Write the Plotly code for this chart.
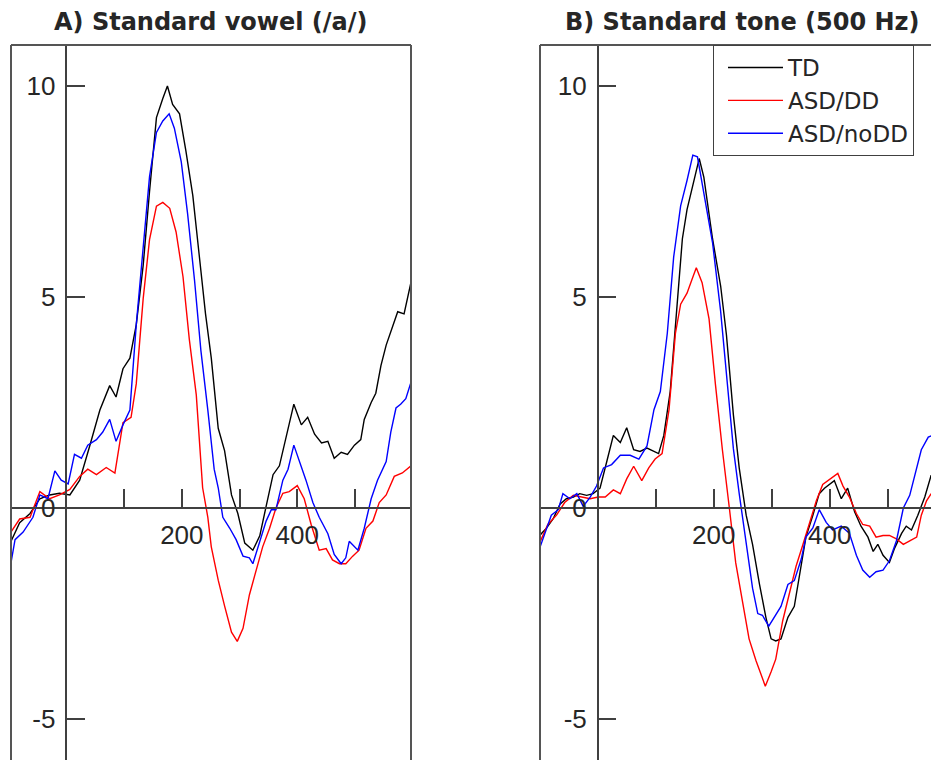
import plotly.graph_objects as go

# ---------------- data (ms, microvolts) ----------------
a_td_t = [-98, -81, -63, -46, -29, -12, 6, 23, 40, 58, 75, 86, 98, 110, 121, 133, 144, 156, 167, 175,
          184, 196, 207, 219, 230, 241, 251, 256, 263, 274, 286, 297, 309, 323, 335, 346, 358, 369, 381,
          394, 407, 418, 430, 442, 453, 464, 476, 487, 499, 510, 516, 528, 536, 545, 554, 562, 574, 585, 597]
a_td_v = [-0.85, -0.35, -0.13, 0.22, 0.31, 0.35, 0.31, 0.66, 1.45, 2.32, 2.9, 2.63, 3.3, 3.55, 4.34, 5.75,
          7.5, 9.25, 9.7, 10.0, 9.56, 9.34, 8.46, 7.4, 6.0, 4.6, 3.55, 2.85, 1.89, 1.36, 0.31, -0.13, -0.83,
          -1.0, -0.66, 0.04, 0.79, 1.0, 1.71, 2.46, 1.97, 2.15, 1.75, 1.54, 1.58, 1.18, 1.32, 1.27, 1.49,
          1.62, 2.1, 2.5, 2.72, 3.38, 3.86, 4.17, 4.65, 4.6, 5.35]

a_dd_t = [-98, -81, -63, -46, -29, -12, 6, 23, 37, 52, 69, 84, 98, 112, 121, 133, 144, 156, 167, 179,
          190, 202, 213, 225, 236, 245, 251, 263, 274, 286, 296, 306, 317, 329, 340, 352, 363, 375, 386,
          400, 412, 424, 438, 450, 461, 473, 484, 496, 507, 519, 531, 542, 554, 568, 582, 597]
a_dd_v = [-0.61, -0.26, -0.22, 0.39, 0.22, 0.31, 0.44, 0.75, 0.92, 0.79, 0.96, 0.83, 2.02, 2.15, 2.94,
          4.96, 6.36, 7.15, 7.24, 7.1, 6.54, 5.48, 3.99, 2.68, 0.48, -0.22, -0.92, -1.71, -2.32, -2.94,
          -3.16, -2.85, -2.06, -1.45, -0.92, -0.48, 0.0, 0.35, 0.39, 0.53, 0.22, -0.39, -1.0, -0.96,
          -1.23, -1.32, -1.32, -1.14, -1.0, -0.48, -0.31, 0.13, 0.31, 0.75, 0.83, 1.0]

a_nodd_t = [-98, -89, -75, -58, -46, -32, -20, -9, 3, 14, 26, 37, 52, 63, 75, 86, 98, 110, 121, 133,
            144, 156, 167, 178, 187, 199, 210, 222, 233, 245, 256, 263, 271, 283, 294, 306, 317, 323,
            332, 346, 355, 363, 375, 384, 394, 404, 415, 427, 438, 453, 464, 476, 484, 490, 496, 505,
            516, 528, 539, 554, 562, 571, 579, 588, 597]
a_nodd_v = [-1.45, -0.75, -0.57, -0.22, 0.31, 0.22, 0.88, 0.66, 0.57, 1.27, 1.18, 1.49, 1.62, 1.8, 2.1,
            1.58, 1.97, 2.32, 4.34, 6.27, 7.85, 8.9, 9.17, 9.34, 9.0, 8.2, 6.97, 5.39, 3.73, 2.32, 0.92,
            0.48, -0.22, -0.48, -0.75, -1.14, -1.18, -1.32, -0.92, -0.31, -0.04, -0.04, 0.66, 0.92, 1.49,
            1.1, 0.66, 0.13, -0.22, -0.61, -1.1, -1.32, -1.18, -0.79, -0.88, -1.0, -0.48, 0.22, 0.66,
            1.1, 1.8, 2.37, 2.46, 2.59, 2.98]

b_td_t = [-100, -88, -77, -65, -54, -42, -31, -19, -8, 4, 16, 27, 39, 50, 62, 73, 85, 97, 105, 114,
          125, 137, 146, 154, 166, 175, 183, 198, 212, 222, 234, 244, 256, 267, 279, 290, 299, 307, 316,
          328, 339, 348, 359, 371, 382, 391, 400, 408, 420, 431, 443, 454, 466, 475, 483, 492, 503, 512,
          524, 532, 541, 552, 564, 575]
b_td_v = [-0.65, -0.47, -0.26, 0.09, 0.22, 0.26, 0.34, 0.30, 0.34, 0.47, 1.12, 1.72, 1.55, 1.9, 1.38,
          1.34, 1.42, 1.34, 1.29, 1.72, 2.76, 4.83, 6.38, 7.07, 7.76, 8.28, 7.84, 6.38, 5.26, 4.1, 2.2,
          0.95, -0.17, -0.86, -1.81, -2.59, -3.1, -3.15, -3.1, -2.59, -2.33, -1.55, -0.69, -0.17, 0.34,
          0.47, 0.56, 0.65, 0.22, 0.47, -0.09, -0.43, -0.69, -1.03, -0.86, -1.12, -1.29, -0.95, -0.6,
          -0.43, -0.52, -0.17, 0.26, 0.78]

b_dd_t = [-100, -86, -71, -57, -42, -28, -13, 1, 13, 27, 39, 50, 62, 76, 88, 99, 111, 123, 134, 143,
          154, 163, 170, 180, 192, 203, 215, 227, 238, 250, 261, 273, 282, 289, 299, 307, 319, 331, 342,
          354, 365, 377, 388, 400, 414, 423, 434, 446, 457, 469, 480, 492, 503, 515, 527, 538, 550, 558,
          567, 575]
b_dd_v = [-0.82, -0.39, -0.17, 0.13, 0.3, 0.26, 0.22, 0.26, 0.26, 0.43, 0.34, 0.69, 0.99, 0.65, 0.95,
          1.16, 1.29, 2.33, 4.14, 4.83, 5.09, 5.43, 5.69, 5.34, 4.48, 2.93, 1.38, 0.0, -1.3, -2.24, -3.1,
          -3.62, -3.97, -4.22, -3.88, -3.58, -2.67, -1.98, -1.38, -0.86, -0.34, 0.17, 0.56, 0.69, 0.82,
          0.52, 0.26, -0.13, -0.39, -0.43, -0.69, -0.65, -0.65, -0.73, -0.86, -0.78, -0.69, -0.17, 0.17,
          0.34]

b_nodd_t = [-100, -91, -80, -68, -60, -48, -36, -25, -13, -2, 10, 24, 39, 56, 71, 85, 97, 108, 120, 131,
            143, 154, 164, 172, 183, 198, 212, 222, 234, 244, 256, 267, 276, 284, 295, 305, 316, 328,
            339, 351, 359, 371, 382, 394, 405, 420, 434, 446, 457, 469, 480, 492, 503, 515, 527, 538,
            547, 558, 570, 577]
b_nodd_v = [-0.95, -0.6, -0.17, -0.04, 0.34, 0.22, 0.34, 0.04, 0.26, 0.52, 0.95, 1.03, 1.25, 1.25, 1.16,
            1.47, 2.33, 2.76, 4.14, 5.95, 7.16, 7.76, 8.36, 8.32, 7.5, 6.29, 4.66, 3.2, 1.4, 0.34, -0.78,
            -1.9, -2.5, -2.54, -2.8, -2.59, -2.33, -1.81, -1.72, -1.21, -0.69, -0.47, -0.04, -0.34, -0.52,
            -0.43, -0.6, -1.12, -1.47, -1.64, -1.51, -1.47, -1.25, -0.78, 0.0, 0.3, 0.78, 1.38, 1.68, 1.72]

group_names = ["TD", "ASD/DD", "ASD/noDD"]
group_colors = ["#000000", "#ff0000", "#0000ff"]
panel_titles = ["A) Standard vowel (/a/)", "B) Standard tone (500 Hz)"]

x_tickvals = [100, 200, 300, 400, 500]
x_ticktext = ["", "200", "", "400", ""]
y_tickvals = [-5, 0, 5, 10]
y_ticktext = ["-5", "0", "5", "10"]

# ---------------- layout geometry ----------------
W, H = 931, 760
TOP = 45
yrange = [-5.97, 10.97]
xrange_a = [-96, 597]
xrange_b = [-99.5, 574.7]
dom_a = [11 / W, 411 / W]
dom_b = [540 / W, 1.0]

FONT = "Liberation Sans, Arial, Helvetica, sans-serif"
WIDE = "DejaVu Sans, Verdana, sans-serif"
AX = "#404040"
TXT = "#262626"

fig = go.Figure()

panels = [
    ("x", "y", [(a_td_t, a_td_v), (a_dd_t, a_dd_v), (a_nodd_t, a_nodd_v)]),
    ("x2", "y2", [(b_td_t, b_td_v), (b_dd_t, b_dd_v), (b_nodd_t, b_nodd_v)]),
]
for pi, (xa, ya, series) in enumerate(panels):
    for gi, (t, v) in enumerate(series):
        fig.add_trace(go.Scatter(
            x=t, y=v, mode="lines", xaxis=xa, yaxis=ya,
            name=group_names[gi], legendgroup=group_names[gi],
            showlegend=(pi == 1),
            line=dict(color=group_colors[gi], width=1.4),
            hoverinfo="skip",
        ))

y_pos = (0 - yrange[0]) / (yrange[1] - yrange[0])


def yaxis_pos(dom, xr):
    return dom[0] + (0 - xr[0]) / (xr[1] - xr[0]) * (dom[1] - dom[0])


common_x = dict(
    showgrid=False, zeroline=False, showline=True, linecolor=AX, linewidth=1.5,
    ticks="inside", ticklen=18, tickwidth=1.5, tickcolor=AX,
    tickvals=x_tickvals, ticktext=x_ticktext,
    tickfont=dict(family=FONT, size=26, color=TXT),
    anchor="free", position=y_pos, ticklabelstandoff=4,
)
common_y = dict(
    range=yrange, domain=[0, 1],
    showgrid=False, zeroline=False, showline=True, linecolor=AX, linewidth=1.5,
    ticks="inside", ticklen=18, tickwidth=1.5, tickcolor=AX,
    tickvals=y_tickvals, ticktext=y_ticktext,
    tickfont=dict(family=FONT, size=26, color=TXT),
    anchor="free", ticklabelstandoff=5,
)

fig.update_layout(
    width=W, height=H,
    margin=dict(l=0, r=0, t=TOP, b=0),
    paper_bgcolor="white", plot_bgcolor="white",
    xaxis=dict(range=xrange_a, domain=dom_a, **common_x),
    xaxis2=dict(range=xrange_b, domain=dom_b, **common_x),
    yaxis=dict(position=yaxis_pos(dom_a, xrange_a), **common_y),
    yaxis2=dict(position=yaxis_pos(dom_b, xrange_b), **common_y),
    showlegend=True,
    legend=dict(
        x=713 / W, y=1, xanchor="left", yanchor="top",
        bgcolor="white", bordercolor=AX, borderwidth=1,
        font=dict(family=WIDE, size=23, color=TXT),
        itemwidth=55, tracegroupgap=0, indentation=9,
        entrywidth=240, entrywidthmode="pixels",
    ),
)

# outer boxes
box = dict(color="#555555", width=2)
for xr_, yr_, right in (("x domain", "y domain", True), ("x2 domain", "y2 domain", False)):
    fig.add_shape(type="line", xref=xr_, yref=yr_, x0=0, x1=0, y0=0, y1=1, line=box)
    fig.add_shape(type="line", xref=xr_, yref=yr_, x0=0, x1=1, y0=1, y1=1, line=box)
    if right:
        fig.add_shape(type="line", xref=xr_, yref=yr_, x0=1, x1=1, y0=0, y1=1, line=box)

# panel titles
title_y = 1 + (TOP - 22) / (H - TOP)
for txt, cx in zip(panel_titles, [211 / W, 742 / W]):
    fig.add_annotation(
        text="<b>%s</b>" % txt, xref="paper", yref="paper", x=cx, y=title_y,
        xanchor="center", yanchor="middle", showarrow=False,
        font=dict(family=WIDE, size=24, color=TXT),
    )

fig.write_html("out.html", config={"displayModeBar": False},
               post_script="document.body.style.margin='0';")
